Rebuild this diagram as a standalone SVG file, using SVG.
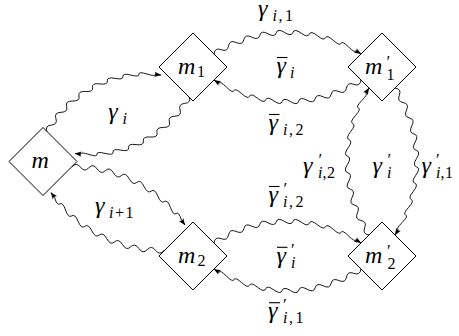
<svg xmlns="http://www.w3.org/2000/svg" width="459" height="336" viewBox="0 0 459 336">
<defs>
<marker id="ah" viewBox="0 0 10 10" refX="9.5" refY="5" markerWidth="7" markerHeight="7" markerUnits="userSpaceOnUse" orient="auto"><path d="M0,1.2 Q3.5,5 0,8.8 L10,5 Z" fill="#000"/></marker>
</defs>
<rect width="459" height="336" fill="#fff"/>
<g id="connectors" fill="none" stroke="#000" stroke-width="0.9">
<path id="eA" marker-end="url(#ah)" d="M47,132 Q44.5,125.74 51.21,125.12 T55.9,118.53 T61.06,112.32 T66.63,106.48 T72.61,101.04 T78.95,96.04 T85.64,91.5 T92.63,87.45 T99.9,83.9 T107.38,80.88 T115.08,78.38 T122.92,76.46 T130.87,75.09 T138.92,74.28 T146.99,74.04 T155.06,74.38 L161,75"/>
<use href="#eA" transform="rotate(180 118 114.25)"/>
<path id="eB" marker-end="url(#ah)" d="M72,167 Q76.3,161.67 80.42,167.13 T88.8,167.8 T97.13,168.98 T105.36,170.67 T113.47,172.88 T121.43,175.58 T129.21,178.77 T136.78,182.45 T144.1,186.58 T151.16,191.17 T157.91,196.18 T164.34,201.6 T170.42,207.4 T176.12,213.57 T181.43,220.09 L185,225"/>
<use href="#eB" transform="rotate(180 118 208.75)"/>
<path id="eC" marker-end="url(#ah)" d="M214.09,53.94 Q214.86,47.18 221.19,49.67 T228.55,45.85 T236.12,42.48 T243.88,39.59 T251.8,37.17 T259.86,35.24 T268.01,33.8 T276.25,32.86 T284.53,32.43 T292.81,32.51 T301.08,33.08 T309.3,34.15 T317.43,35.73 T325.46,37.81 T333.34,40.36 T341.04,43.39 T348.56,46.89 T355.84,50.83 L360.91,53.94"/>
<use href="#eC" transform="rotate(180 287.5 67)"/>
<use href="#eC" transform="translate(0 189)"/>
<use href="#eC" transform="translate(0 189) rotate(180 287.5 67)"/>
<use href="#eC" transform="translate(382 161.5) rotate(90) translate(-287.5 -67)"/>
<use href="#eC" transform="translate(382 161.5) rotate(-90) translate(-287.5 -67)"/>
</g>
<g id="bars" fill="none" stroke="#000" stroke-width="1.1">
<path d="M277,57.5H287.5"/>
<path d="M269,114.5H279.5"/>
<path d="M269,186.5H279.5"/>
<path d="M277,247.3H287.5"/>
<path d="M269,302.7H280"/>
</g>
<g id="labels" font-family="Liberation Serif" font-style="italic" font-size="24" fill="#000">
<text><tspan x="258" y="15.5">γ</tspan><tspan font-size="16" x="272.5" y="20.5">i</tspan><tspan font-size="16" font-style="normal" x="278.5" y="20.5">,</tspan><tspan font-size="16" font-style="normal" x="285" y="20.5">1</tspan></text>
<text><tspan x="276.5" y="72.5">γ</tspan><tspan font-size="16" x="290" y="77.5">i</tspan></text>
<text><tspan x="268.5" y="129.5">γ</tspan><tspan font-size="16" x="283" y="134.5">i</tspan><tspan font-size="16" font-style="normal" x="289" y="134.5">,</tspan><tspan font-size="16" font-style="normal" x="295.5" y="134.5">2</tspan></text>
<text><tspan x="303" y="172.5">γ</tspan><tspan font-size="17" font-style="normal" x="318.5" y="165">′</tspan><tspan font-size="16" x="318" y="178">i</tspan><tspan font-size="16" font-style="normal" x="322.5" y="178">,</tspan><tspan font-size="16" font-style="normal" x="327" y="178">2</tspan></text>
<text><tspan x="372.5" y="172.5">γ</tspan><tspan font-size="17" font-style="normal" x="387.5" y="165">′</tspan><tspan font-size="16" x="387" y="178">i</tspan></text>
<text><tspan x="421.5" y="172.5">γ</tspan><tspan font-size="17" font-style="normal" x="436" y="165">′</tspan><tspan font-size="16" x="436" y="178">i</tspan><tspan font-size="16" font-style="normal" x="440.5" y="178">,</tspan><tspan font-size="16" font-style="normal" x="445" y="178">1</tspan></text>
<text><tspan x="268.5" y="201.5">γ</tspan><tspan font-size="17" font-style="normal" x="283.5" y="194">′</tspan><tspan font-size="16" x="283" y="207">i</tspan><tspan font-size="16" font-style="normal" x="289" y="207">,</tspan><tspan font-size="16" font-style="normal" x="295.5" y="207">2</tspan></text>
<text><tspan x="276.5" y="262.5">γ</tspan><tspan font-size="17" font-style="normal" x="291" y="255">′</tspan><tspan font-size="16" x="291" y="268">i</tspan></text>
<text><tspan x="268" y="317.5">γ</tspan><tspan font-size="17" font-style="normal" x="283" y="310">′</tspan><tspan font-size="16" x="283" y="323">i</tspan><tspan font-size="16" font-style="normal" x="289" y="323">,</tspan><tspan font-size="16" font-style="normal" x="295.5" y="323">1</tspan></text>
<text><tspan x="108.3" y="119.3">γ</tspan><tspan font-size="16" x="122.5" y="124">i</tspan></text>
<text><tspan x="95" y="212.7">γ</tspan><tspan font-size="16" x="109" y="217.5">i</tspan><tspan font-size="16" font-style="normal" x="115" y="217.5">+</tspan><tspan font-size="16" font-style="normal" x="125.5" y="217.5">1</tspan></text>
</g>
<g id="nodes" font-family="Liberation Serif" font-style="italic" font-size="24">
<g id="m"><polygon fill="#fff" stroke="#000" points="43,127.5 77,161.5 43,195.5 9,161.5"/><text x="31.5" y="168">m</text></g>
<g id="m1"><polygon fill="#fff" stroke="#000" points="193,33 227,67 193,101 159,67"/><text><tspan x="178" y="73.5">m</tspan><tspan font-size="16" font-style="normal" x="197" y="76.5">1</tspan></text></g>
<g id="m2"><polygon fill="#fff" stroke="#000" points="193,222 227,256 193,290 159,256"/><text><tspan x="178" y="262.5">m</tspan><tspan font-size="16" font-style="normal" x="197.5" y="265.5">2</tspan></text></g>
<g id="m1p"><polygon fill="#fff" stroke="#000" points="382,33 416,67 382,101 348,67"/><text><tspan x="365" y="73.5">m</tspan><tspan font-size="17" font-style="normal" x="386.5" y="67">′</tspan><tspan font-size="16" font-style="normal" x="386.5" y="80">1</tspan></text></g>
<g id="m2p"><polygon fill="#fff" stroke="#000" points="382,222 416,256 382,290 348,256"/><text><tspan x="365" y="262.5">m</tspan><tspan font-size="17" font-style="normal" x="387" y="256">′</tspan><tspan font-size="16" font-style="normal" x="387.5" y="269">2</tspan></text></g>
</g>
</svg>
